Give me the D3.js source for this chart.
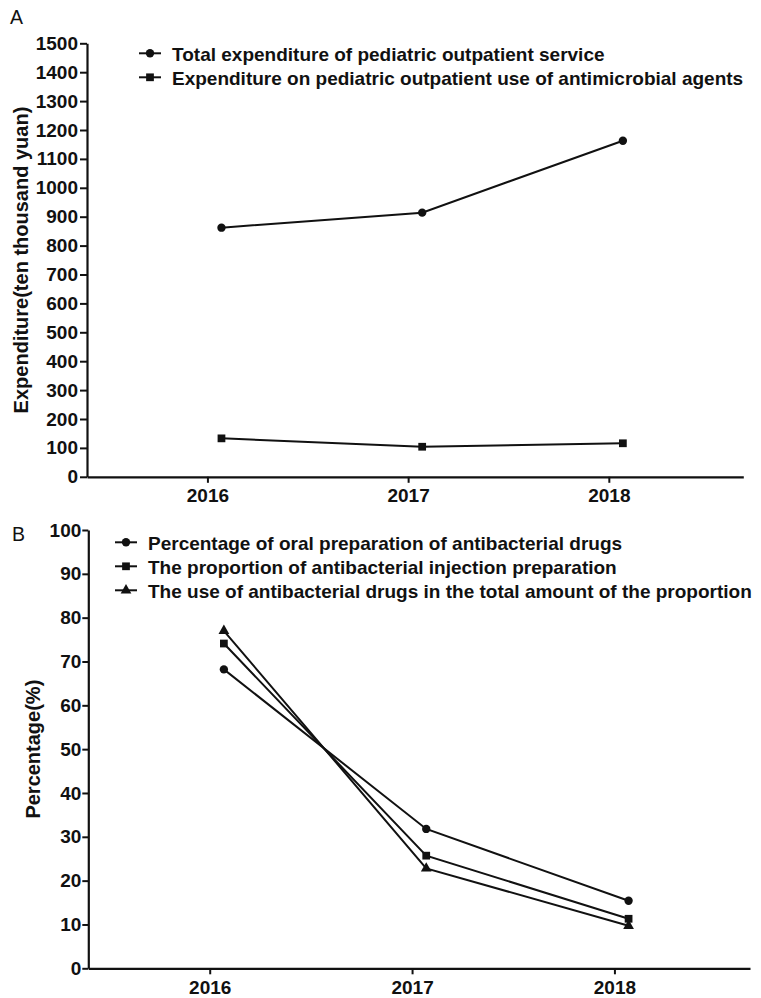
<!DOCTYPE html>
<html>
<head>
<meta charset="utf-8">
<script src="https://cdn.jsdelivr.net/npm/d3@7"></script>
<style>
  body { margin: 0; background: #fff; }
  svg { display: block; }
  text { font-family: "Liberation Sans", Arial, Helvetica, sans-serif; fill: #111; }
</style>
</head>
<body>
<svg id="chart" width="761" height="998"></svg>
<script>
// Years on the horizontal axis
const years = [2016, 2017, 2018];

// Tick values for the two vertical axes
const expenditureTicks = d3.range(0, 1501, 100);
const percentTicks = d3.range(0, 101, 10);

// Panel A: expenditure, ten thousand yuan
const expenditureNames = [
  "Total expenditure of pediatric outpatient service",
  "Expenditure on pediatric outpatient use of antimicrobial agents"
];
const totalOutpatient = [862, 914, 1163];
const antimicrobialSpend = [133, 104, 116];

// Panel B: percentages
const percentNames = [
  "Percentage of oral preparation of antibacterial drugs",
  "The proportion of antibacterial injection preparation",
  "The use of antibacterial drugs in the total amount of the proportion"
];
const oralShare = [68.2, 31.8, 15.4];
const injectionShare = [74.1, 25.7, 11.3];
const overallUse = [77.0, 22.8, 9.7];

const svg = d3.select("#chart");
const INK = "#111";
const POINT_SHIFT = 0.07; // points sit slightly right of each year tick

function drawPanel(cfg) {
  const g = svg.append("g");
  const x = d3.scaleLinear().domain([2015.4, 2018.67]).range([cfg.left, cfg.right]);
  const y = d3.scaleLinear().domain(cfg.yDomain).range([cfg.bottom, cfg.top]);

  // y axis
  const yAxis = g.append("g")
    .attr("transform", `translate(${cfg.left},0)`)
    .call(d3.axisLeft(y).tickValues(cfg.yTicks).tickFormat(d3.format("d"))
      .tickSize(cfg.yTickSize).tickPadding(cfg.yTickPad).tickSizeOuter(0));
  // x axis
  const xAxis = g.append("g")
    .attr("transform", `translate(0,${cfg.bottom})`)
    .call(d3.axisBottom(x).tickValues(years).tickFormat(d3.format("d"))
      .tickSize(6).tickPadding(6).tickSizeOuter(0));

  [yAxis, xAxis].forEach(a => {
    a.select(".domain").attr("stroke", INK).attr("stroke-width", 2.2);
    a.selectAll(".tick line").attr("stroke", INK).attr("stroke-width", 2);
    a.selectAll(".tick text")
      .attr("fill", INK)
      .style("font-size", "19px")
      .style("font-weight", "bold");
  });

  // axis title
  g.append("text")
    .attr("transform", `translate(${cfg.titleX},${(cfg.top + cfg.bottom) / 2}) rotate(-90)`)
    .attr("text-anchor", "middle")
    .style("font-size", "20px")
    .style("font-weight", "bold")
    .text(cfg.title);

  // panel letter
  g.append("text")
    .attr("x", cfg.letterX).attr("y", cfg.letterY)
    .style("font-size", "19.5px")
    .text(cfg.letter);

  const line = d3.line()
    .x((d, i) => x(years[i] + POINT_SHIFT))
    .y(d => y(d));

  cfg.series.forEach(s => {
    g.append("path")
      .datum(s.values)
      .attr("fill", "none")
      .attr("stroke", INK)
      .attr("stroke-width", 2)
      .attr("d", line);
    g.selectAll(null)
      .data(s.values)
      .join("path")
      .attr("transform", (d, i) => `translate(${x(years[i] + POINT_SHIFT)},${y(d)})`)
      .attr("d", d3.symbol().type(s.symbol).size(s.size))
      .attr("fill", INK);
  });

  // legend
  const lg = g.append("g");
  cfg.series.forEach((s, i) => {
    const cy = cfg.legendY + i * 24;
    lg.append("line")
      .attr("x1", cfg.legendX).attr("x2", cfg.legendX + 22)
      .attr("y1", cy).attr("y2", cy)
      .attr("stroke", INK).attr("stroke-width", 2);
    lg.append("path")
      .attr("transform", `translate(${cfg.legendX + 11},${cy})`)
      .attr("d", d3.symbol().type(s.symbol).size(s.size))
      .attr("fill", INK);
    lg.append("text")
      .attr("x", cfg.legendX + 33).attr("y", cy)
      .attr("dy", "0.42em")
      .style("font-size", "19px")
      .style("font-weight", "bold")
      .text(s.name);
  });
}

drawPanel({
  left: 87, right: 743.3, top: 43.3, bottom: 476.8,
  yDomain: [0, 1500], yTicks: expenditureTicks, yTickSize: 7, yTickPad: 2,
  title: "Expenditure(ten thousand yuan)", titleX: 28,
  letter: "A", letterX: 10, letterY: 24,
  legendX: 139, legendY: 53.3,
  series: [
    { name: expenditureNames[0], values: totalOutpatient, symbol: d3.symbolCircle, size: 55 },
    { name: expenditureNames[1], values: antimicrobialSpend, symbol: d3.symbolSquare, size: 60 }
  ]
});

drawPanel({
  left: 88.3, right: 750, top: 530, bottom: 968.3,
  yDomain: [0, 100], yTicks: percentTicks, yTickSize: 6, yTickPad: 1,
  title: "Percentage(%)", titleX: 40,
  letter: "B", letterX: 12, letterY: 541,
  legendX: 115, legendY: 542.3,
  series: [
    { name: percentNames[0], values: oralShare, symbol: d3.symbolCircle, size: 55 },
    { name: percentNames[1], values: injectionShare, symbol: d3.symbolSquare, size: 60 },
    { name: percentNames[2], values: overallUse, symbol: d3.symbolTriangle, size: 50 }
  ]
});
</script>
</body>
</html>
